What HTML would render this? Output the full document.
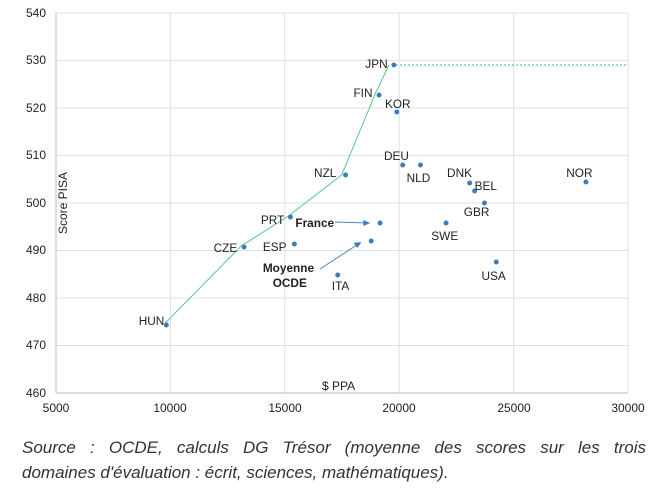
<!DOCTYPE html>
<html><head><meta charset="utf-8"><style>
body{margin:0;width:670px;height:503px;background:#fff;overflow:hidden;font-family:"Liberation Sans",sans-serif}
.cap{position:absolute;left:22px;width:624px;font-style:italic;font-size:17px;color:#333;line-height:25px;white-space:nowrap}
.l1{top:435px;text-align:justify;text-align-last:justify;white-space:normal}
.l2{top:460px}
</style></head><body>
<svg width="670" height="430" style="position:absolute;left:0;top:0" font-family="Liberation Sans, sans-serif" font-size="12" fill="#222">
<g stroke="#e0e0e0" stroke-width="1">
<line x1="56" y1="13" x2="628" y2="13"/><line x1="56" y1="60.5" x2="628" y2="60.5"/><line x1="56" y1="108" x2="628" y2="108"/><line x1="56" y1="155.5" x2="628" y2="155.5"/><line x1="56" y1="203" x2="628" y2="203"/><line x1="56" y1="250.5" x2="628" y2="250.5"/><line x1="56" y1="298" x2="628" y2="298"/><line x1="56" y1="345.5" x2="628" y2="345.5"/>
<line x1="170.4" y1="13" x2="170.4" y2="393"/><line x1="284.8" y1="13" x2="284.8" y2="393"/><line x1="399.2" y1="13" x2="399.2" y2="393"/><line x1="513.6" y1="13" x2="513.6" y2="393"/><line x1="628" y1="13" x2="628" y2="393"/>
</g>
<line x1="56" y1="13" x2="56" y2="393" stroke="#bbb"/><line x1="56" y1="393" x2="628" y2="393" stroke="#bbb"/>
<g text-anchor="end"><text x="46" y="17">540</text><text x="46" y="64">530</text><text x="46" y="112">520</text><text x="46" y="159">510</text><text x="46" y="207">500</text><text x="46" y="254">490</text><text x="46" y="302">480</text><text x="46" y="349">470</text><text x="46" y="397">460</text></g>
<g text-anchor="middle"><text x="56" y="412">5000</text><text x="170" y="412">10000</text><text x="285" y="412">15000</text><text x="399" y="412">20000</text><text x="514" y="412">25000</text><text x="628" y="412">30000</text></g>
<text transform="translate(67,203) rotate(-90)" text-anchor="middle">Score PISA</text>
<text x="322" y="390">$ PPA</text>
<line x1="392" y1="65" x2="628" y2="65" stroke="#3fb56a" stroke-dasharray="2,2"/>
<g transform="translate(56,0) scale(0.985,1) translate(-56,0)">
<polyline points="167,323 244,246 292,216 346,175 380,94 394,65" fill="none" stroke="#5cc78a" stroke-width="1"/>
<g stroke="#4a86c0" fill="none"><line x1="339" y1="222" x2="372" y2="223"/><line x1="324" y1="269" x2="363" y2="244"/></g>
<g fill="#3a7dbf">
<circle cx="168" cy="325" r="2.5"/><circle cx="247" cy="247" r="2.5"/><circle cx="294" cy="217" r="2.5"/><circle cx="298" cy="244" r="2.5"/><circle cx="350" cy="175" r="2.5"/><circle cx="384" cy="95" r="2.5"/><circle cx="399" cy="65" r="2.5"/><circle cx="402" cy="112" r="2.5"/><circle cx="408" cy="165" r="2.5"/><circle cx="426" cy="165" r="2.5"/><circle cx="476" cy="183" r="2.5"/><circle cx="481" cy="191" r="2.5"/><circle cx="491" cy="203" r="2.5"/><circle cx="452" cy="223" r="2.5"/><circle cx="503" cy="262" r="2.5"/><circle cx="594" cy="182" r="2.5"/><circle cx="342" cy="275" r="2.5"/><circle cx="385" cy="223" r="2.5"/><circle cx="376" cy="241" r="2.5"/>
<polygon points="375,223 368,220 368,226"/><polygon points="366,242 358,243 362,248"/>
</g>
<text x="140" y="325">HUN</text><text x="216" y="252">CZE</text><text x="264" y="224">PRT</text><text x="266" y="251">ESP</text><text x="318" y="177">NZL</text><text x="358" y="97">FIN</text><text x="370" y="68">JPN</text><text x="390" y="108">KOR</text><text x="389" y="160">DEU</text><text x="412" y="182">NLD</text><text x="453" y="177">DNK</text><text x="481" y="190">BEL</text><text x="470" y="216">GBR</text><text x="437" y="240">SWE</text><text x="488" y="280">USA</text><text x="574" y="177">NOR</text><text x="336" y="290">ITA</text>
<text x="299" y="227" font-weight="bold">France</text>
<text x="266" y="272" font-weight="bold">Moyenne</text><text x="276" y="287" font-weight="bold">OCDE</text>
</g>
</svg>
<div class="cap l1">Source : OCDE, calculs DG Trésor (moyenne des scores sur les trois</div>
<div class="cap l2">domaines d'évaluation : écrit, sciences, mathématiques).</div>
</body></html>
